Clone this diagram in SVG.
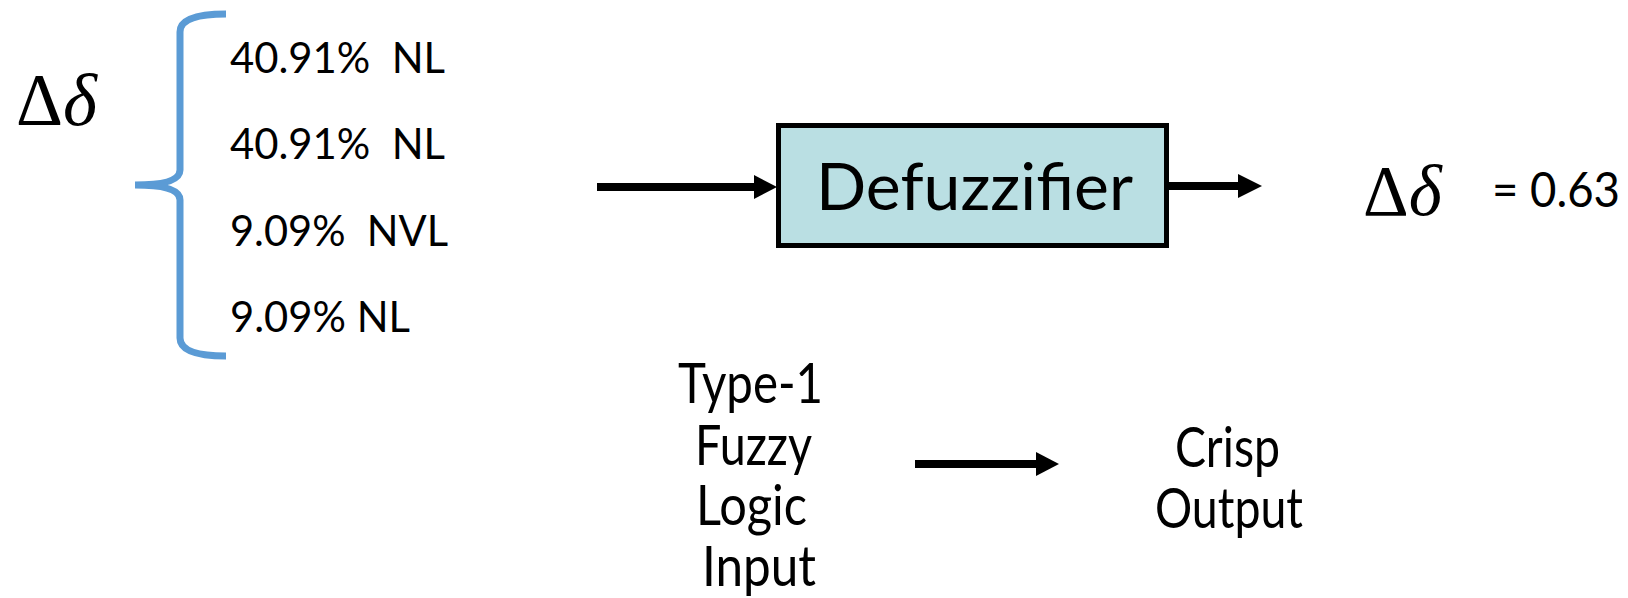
<svg xmlns="http://www.w3.org/2000/svg" width="1628" height="598" viewBox="0 0 1628 598">
<defs>
<style>
.t{font-family:Lato,"Open Sans","Liberation Sans",sans-serif;fill:#000;white-space:pre;}
.m{font-family:"Liberation Serif","DejaVu Serif",serif;fill:#000;}
.c{stroke:#000;fill:none;stroke-width:8;}
.h{fill:#000;stroke:none;}
</style>
</defs>
<rect width="1628" height="598" fill="#fff"/>
<g id="input-symbol">
<text class="m" x="16" y="125" font-size="73">Δ<tspan font-style="italic">δ</tspan></text>
</g>
<g id="brace">
<path d="M226,14 Q180,14 180,32 L180,170 Q180,185 135,185 Q180,185 180,200 L180,338 Q180,356 226,356" fill="none" stroke="#5B9BD5" stroke-width="7"/>
</g>
<g id="memberships">
<text class="t" x="230" y="73" font-size="43" textLength="215" lengthAdjust="spacingAndGlyphs">40.91%  NL</text>
<text class="t" x="230" y="159" font-size="43" textLength="215" lengthAdjust="spacingAndGlyphs">40.91%  NL</text>
<text class="t" x="230" y="246" font-size="43" textLength="218" lengthAdjust="spacingAndGlyphs">9.09%  NVL</text>
<text class="t" x="230" y="332" font-size="43" textLength="180" lengthAdjust="spacingAndGlyphs">9.09% NL</text>
</g>
<g id="defuzzifier">
<rect x="778.5" y="125.5" width="388" height="120" fill="#BADFE3" stroke="#000" stroke-width="5"/>
<text class="t" x="816" y="210" font-size="66" textLength="317" lengthAdjust="spacingAndGlyphs">Defuzzifier</text>
</g>
<g id="output">
<text class="m" x="1363" y="215" font-size="71">Δ<tspan font-style="italic">δ</tspan></text>
<text class="t" x="1492" y="207" font-size="48" textLength="128" lengthAdjust="spacingAndGlyphs">= 0.63</text>
</g>
<g id="legend-input">
<text class="t" x="678" y="403" font-size="56" textLength="145" lengthAdjust="spacingAndGlyphs">Type-1</text>
<text class="t" x="695" y="465" font-size="56" textLength="117" lengthAdjust="spacingAndGlyphs">Fuzzy</text>
<text class="t" x="696" y="525" font-size="56" textLength="111" lengthAdjust="spacingAndGlyphs">Logic</text>
<text class="t" x="702" y="586" font-size="56" textLength="114" lengthAdjust="spacingAndGlyphs">Input</text>
</g>
<g id="legend-output">
<text class="t" x="1175" y="467" font-size="56" textLength="105" lengthAdjust="spacingAndGlyphs">Crisp</text>
<text class="t" x="1155" y="528" font-size="56" textLength="148" lengthAdjust="spacingAndGlyphs">Output</text>
</g>
<g id="connectors">
<line class="c" x1="597" y1="187" x2="756" y2="187"/>
<path class="h" d="M754,175 L777,187 L754,199 z"/>
<line class="c" x1="1169" y1="186" x2="1240" y2="186"/>
<path class="h" d="M1238,174 L1262,186 L1238,198 z"/>
<line class="c" x1="915" y1="464" x2="1038" y2="464"/>
<path class="h" d="M1036,452 L1059,464 L1036,476 z"/>
</g>
</svg>
